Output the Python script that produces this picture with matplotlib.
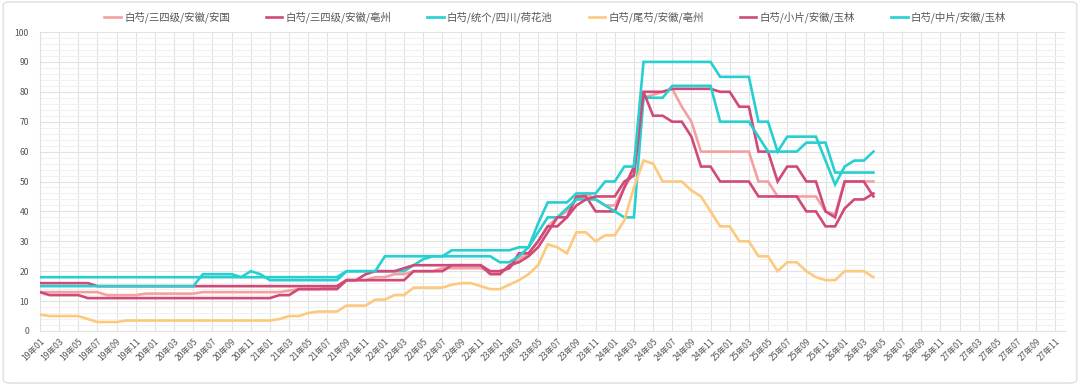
import matplotlib
matplotlib.use("Agg")
import matplotlib.pyplot as plt
from matplotlib.patches import FancyBboxPatch
from matplotlib.ticker import MultipleLocator

plt.rcParams['font.family'] = ['Noto Sans CJK SC', 'DejaVu Sans']

# categories: 19年01 .. 27年12
months = [f"{y}年{m:02d}" for y in range(19, 28) for m in range(1, 13)]

names = ["白芍/三四级/安徽/安国", "白芍/三四级/安徽/亳州", "白芍/统个/四川/荷花池",
         "白芍/尾芍/安徽/亳州", "白芍/小片/安徽/玉林", "白芍/中片/安徽/玉林"]

anguo = [13, 13, 13, 13, 13, 13, 13, 12, 12, 12, 12, 12.5,
         12.5, 12.5, 12.5, 12.5, 12.5, 13, 13, 13, 13, 13, 13, 13,
         13, 13, 13.5, 14, 14, 14, 14.5, 15, 17, 17, 17, 18,
         18, 19, 19, 20, 20, 20, 21, 21, 21, 21, 21, 20,
         20, 21, 24, 26, 30, 35, 38, 40, 44, 46, 44, 42,
         42, 48, 53, 78, 79, 80, 81, 75, 70, 60, 60, 60,
         60, 60, 60, 50, 50, 45, 45, 45, 45, 45, 40, 39,
         50, 50, 50, 50]

bozhou34 = [16, 16, 16, 16, 16, 16, 15, 15, 15, 15, 15, 15,
            15, 15, 15, 15, 15, 15, 15, 15, 15, 15, 15, 15,
            15, 15, 15, 15, 15, 15, 15, 15, 17, 17, 17, 17,
            17, 17, 17, 20, 20, 20, 20, 22, 22, 22, 22, 20,
            20, 21, 26, 26, 30, 35, 35, 38, 45, 45, 40, 40,
            40, 48, 55, 80, 80, 80, 81, 81, 81, 81, 81, 80,
            80, 75, 75, 60, 60, 50, 55, 55, 50, 50, 40, 38,
            50, 50, 50, 45]

hehuachi = [15, 15, 15, 15, 15, 15, 15, 15, 15, 15, 15, 15,
            15, 15, 15, 15, 15, 19, 19, 19, 19, 18, 20, 19,
            17, 17, 17, 17, 17, 17, 17, 17, 20, 20, 20, 20,
            20, 20, 20, 22, 24, 25, 25, 25, 25, 25, 25, 25,
            23, 23, 25, 28, 33, 38, 38, 41, 44, 44, 44, 42,
            40, 38, 38, 78, 78, 78, 82, 82, 82, 82, 82, 70,
            70, 70, 70, 65, 60, 60, 60, 60, 63, 63, 63, 53,
            53, 53, 53, 53]

weishao = [5.5, 5, 5, 5, 5, 4, 3, 3, 3, 3.5, 3.5, 3.5,
           3.5, 3.5, 3.5, 3.5, 3.5, 3.5, 3.5, 3.5, 3.5, 3.5, 3.5, 3.5,
           3.5, 4, 5, 5, 6, 6.5, 6.5, 6.5, 8.5, 8.5, 8.5, 10.5,
           10.5, 12, 12, 14.5, 14.5, 14.5, 14.5, 15.5, 16, 16, 15, 14,
           14, 15.5, 17, 19, 22, 29, 28, 26, 33, 33, 30, 32,
           32, 37, 48, 57, 56, 50, 50, 50, 47, 45, 40, 35,
           35, 30, 30, 25, 25, 20, 23, 23, 20, 18, 17, 17,
           20, 20, 20, 18]

xiaopian = [13, 12, 12, 12, 12, 11, 11, 11, 11, 11, 11, 11,
            11, 11, 11, 11, 11, 11, 11, 11, 11, 11, 11, 11,
            11, 12, 12, 14, 14, 14, 14, 14, 17, 17, 19, 20,
            20, 20, 21, 22, 22, 22, 22, 22, 22, 22, 22, 19,
            19, 22, 23, 25, 28, 33, 38, 38, 42, 44, 45, 45,
            45, 50, 52, 80, 72, 72, 70, 70, 65, 55, 55, 50,
            50, 50, 50, 45, 45, 45, 45, 45, 40, 40, 35, 35,
            41, 44, 44, 46]

zhongpian = [18, 18, 18, 18, 18, 18, 18, 18, 18, 18, 18, 18,
             18, 18, 18, 18, 18, 18, 18, 18, 18, 18, 18, 18,
             18, 18, 18, 18, 18, 18, 18, 18, 20, 20, 20, 20,
             25, 25, 25, 25, 25, 25, 25, 27, 27, 27, 27, 27,
             27, 27, 28, 28, 36, 43, 43, 43, 46, 46, 46, 50,
             50, 55, 55, 90, 90, 90, 90, 90, 90, 90, 90, 85,
             85, 85, 85, 70, 70, 60, 65, 65, 65, 65, 57, 49,
             55, 57, 57, 60]

series = [anguo, bozhou34, hehuachi, weishao, xiaopian, zhongpian]
colors = ['#f5a0a0', '#cf4a78', '#27cfd1', '#fcc97f', '#cf4a78', '#27cfd1']

fig = plt.figure(figsize=(10.8, 3.85), dpi=100)
fig.patches.append(FancyBboxPatch((0.003, 0.005), 0.994, 0.99,
                                  boxstyle="round,pad=0,rounding_size=0.008",
                                  transform=fig.transFigure, facecolor='none',
                                  edgecolor='#e3e3e3', linewidth=1.2, zorder=-5))
ax = fig.add_axes([40 / 1080, 54 / 385, 1025 / 1080, 299 / 385])
ax.set_facecolor('none')

x = list(range(len(months)))
lines = []
for name, vals, c in zip(names, series, colors):
    ln, = ax.plot(x[:len(vals)], vals, color=c, lw=1.9, solid_joinstyle='miter',
                  label=name, zorder=3)
    lines.append(ln)

ax.set_xlim(0, len(months) - 1)
ax.set_ylim(0, 100)
ax.set_xticks(x[::2])
ax.set_xticklabels(months[::2], rotation=45, ha='right', rotation_mode='anchor',
                   fontsize=6.2, color='#555555')
ax.yaxis.set_major_locator(MultipleLocator(10))
ax.yaxis.set_minor_locator(MultipleLocator(2))
ax.tick_params(axis='y', which='major', labelsize=6.2, labelcolor='#555555', length=0, pad=8)
ax.tick_params(axis='y', which='minor', length=0)
ax.tick_params(axis='x', length=0, pad=4)
ax.set_axisbelow(True)
ax.grid(True, which='major', axis='both', color='#e2e2e2', lw=0.8)
ax.grid(True, which='minor', axis='y', color='#f0f0f0', lw=0.7)
for s in ['top', 'right']:
    ax.spines[s].set_visible(False)
for s in ['left', 'bottom']:
    ax.spines[s].set_color('#e0e0e0')
    ax.spines[s].set_linewidth(0.8)

fig.legend(handles=lines, labels=names, loc='center', bbox_to_anchor=(0.514, 0.955),
           ncol=6, frameon=False, fontsize=7.5, handlelength=1.6, handletextpad=0.3,
           columnspacing=3.45, labelcolor='#555555')

fig.savefig('out.png', dpi=100)
